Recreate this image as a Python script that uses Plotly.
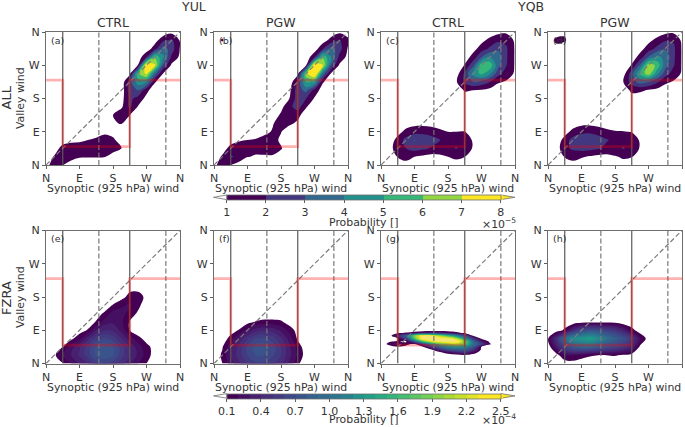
import plotly.graph_objects as go
from plotly.colors import sample_colorscale

W, H = 685, 427
FONT = "DejaVu Sans"
TXT = "#333333"

axis_vals = [0, 90, 180, 270, 360]
axis_text = ["N", "E", "S", "W", "N"]
grid_x = [i * 22.5 for i in range(17)]
grid_y = [i * 22.5 for i in range(17)]
grid_y_g = [0, 22.5, 30, 37.5, 45, 52.5, 60, 67.5, 75, 82.5, 90, 112.5]

solid_x = [45, 225]
dashed_x = [142, 322]
diag = [0, 360]
red_x = [0, 45, 45, 225, 225, 360]
red_y = [230, 230, 50, 50, 230, 230]

levels_top = [1, 8, 1]
levels_bot = [0.1, 2.5, 0.1]
ticks_top = [1, 2, 3, 4, 5, 6, 7, 8]
ticks_bot = [0.1, 0.4, 0.7, 1.0, 1.3, 1.6, 1.9, 2.2, 2.5]
ticks_bot_text = ["0.1", "0.4", "0.7", "1.0", "1.3", "1.6", "1.9", "2.2", "2.5"]

_ = 0
z_a = [
 [.8,1.3,1.05,.3,_,_,_,_,_,_,_,_,_,_,_,_,_],
 [.4,1.1,1.9,1.6,1.15,1.1,1.1,1.05,.6,.1,_,_,_,_,_,_,_],
 [_,.5,1.4,1.4,1.3,1.3,1.4,1.5,1.4,1.05,.2,_,_,_,_,_,_],
 [_,_,.5,.8,.9,1.0,1.2,1.4,1.2,.5,_,_,_,_,_,_,_],
 [_,_,_,_,.2,.3,.5,.8,.6,.2,_,_,_,_,_,_,_],
 [_,_,_,_,_,_,_,.3,.9,1.05,.5,_,_,_,_,_,_],
 [_,_,_,_,_,_,_,.5,1.0,1.8,1.0,.4,_,_,_,_,_],
 [_,_,_,_,_,_,_,.1,.5,.8,2.2,.9,.3,_,_,_,_],
 [_,_,_,_,_,_,_,_,.1,.5,2.3,1.6,.7,.1,_,_,_],
 [_,_,_,_,_,_,_,_,_,.3,2.5,3.0,1.3,.3,_,_,_],
 [_,_,_,_,_,_,_,_,_,.2,2.6,4.6,4.2,1.1,.2,_,_],
 [_,_,_,_,_,_,_,_,_,_,.7,5.8,7.3,3.4,.95,.2,_],
 [_,_,_,_,_,_,_,_,_,_,.2,1.05,8.2,7.2,2.8,.8,.2],
 [_,_,_,_,_,_,_,_,_,_,_,.3,2.0,5.8,4.2,1.8,.8],
 [_,_,_,_,_,_,_,_,_,_,_,_,.3,1.6,3.5,2.5,.95],
 [_,_,_,_,_,_,_,_,_,_,_,_,_,.5,1.8,2.2,.9],
 [_,_,_,_,_,_,_,_,_,_,_,_,_,_,.3,.7,.4],
]
z_b = [
 [.8,1.4,1.0,.5,_,_,_,_,_,_,_,_,_,_,_,_,_],
 [.4,1.15,2.1,1.8,1.05,.9,.9,.9,.5,_,_,_,_,_,_,_,_],
 [_,.5,1.4,1.5,1.4,1.3,1.35,1.4,1.1,.3,_,_,_,_,_,_,_],
 [_,_,.5,.9,1.0,1.1,1.2,1.4,.8,.1,_,_,_,_,_,_,_],
 [_,_,_,_,.2,.5,.85,1.05,1.05,.4,.1,_,_,_,_,_,_],
 [_,_,_,_,_,_,.3,.95,1.3,1.2,.8,.2,_,_,_,_,_],
 [_,_,_,_,_,_,_,.5,1.15,1.8,1.3,.4,_,_,_,_,_],
 [_,_,_,_,_,_,_,_,.7,1.7,2.5,1.1,.3,_,_,_,_],
 [_,_,_,_,_,_,_,_,.3,1.0,2.5,2.0,.9,.1,_,_,_],
 [_,_,_,_,_,_,_,_,_,.7,2.6,3.3,1.6,.5,_,_,_],
 [_,_,_,_,_,_,_,_,_,.3,2.2,5.2,4.8,1.1,.3,_,_],
 [_,_,_,_,_,_,_,_,_,_,.7,6.6,8.6,3.6,.85,.2,_],
 [_,_,_,_,_,_,_,_,_,_,.1,1.0,8.4,7.0,2.9,.8,.2],
 [_,_,_,_,_,_,_,_,_,_,_,.3,1.8,5.8,4.0,1.7,.7],
 [_,_,_,_,_,_,_,_,_,_,_,_,.4,1.9,3.4,2.4,.9],
 [.4,1.15,_,_,_,_,_,_,_,_,_,_,_,.5,1.4,2.1,1.2],
 [.2,.5,_,_,_,_,_,_,_,_,_,_,_,_,.4,.8,.6],
]
z_c = [
 [_,_,.6,.8,.5,.3,.1,.2,.4,.6,.5,.1,_,_,_,_,_],
 [_,.1,1.05,1.2,1.0,.8,.6,.8,1.0,1.2,1.0,.3,_,_,_,_,_],
 [_,.5,1.7,2.0,2.4,2.2,1.9,1.6,1.8,2.05,1.6,.9,.1,_,_,_,_],
 [_,.2,1.5,2.3,3.05,2.7,2.4,2.05,1.7,1.8,1.5,.9,.1,_,_,_,_],
 [_,_,.5,1.4,1.6,1.7,1.6,1.3,1.0,1.0,1.0,.4,_,_,_,_,_],
 [_,_,_,.4,.7,.7,.6,.4,.2,.2,.2,.1,_,_,_,_,_],
 [_,_,_,_,_,_,_,_,_,_,_,_,_,_,_,_,_],
 [_,_,_,_,_,_,_,_,_,_,_,_,_,_,_,_,_],
 [_,_,_,_,_,_,_,_,_,.1,.5,.4,.2,.1,_,_,_],
 [_,_,_,_,_,_,_,_,_,.4,1.1,1.0,.9,.7,.5,.2,_],
 [_,_,_,_,_,_,_,_,_,.9,2.2,3.0,2.7,2.0,1.1,.9,.4],
 [_,_,_,_,_,_,_,_,_,.5,2.2,4.3,5.3,4.2,2.4,1.4,.9],
 [_,_,_,_,_,_,_,_,_,.1,1.1,2.7,5.7,5.7,3.3,2.0,.9],
 [_,_,_,_,_,_,_,_,_,_,.4,1.4,2.9,4.0,3.6,2.1,.9],
 [_,_,_,_,_,_,_,_,_,_,_,.6,1.5,2.2,2.8,2.1,.9],
 [_,_,_,_,_,_,_,_,_,_,_,.1,.7,1.3,1.8,1.8,.8],
 [_,_,_,_,_,_,_,_,_,_,_,_,.1,.4,.7,.8,.4],
]
z_d = [
 [_,_,.6,.8,.5,.3,.1,.2,.4,.6,.5,.1,_,_,_,_,_],
 [_,.1,1.05,1.2,1.1,.9,.7,.7,.9,1.15,1.05,.3,_,_,_,_,_],
 [_,.5,1.7,2.2,2.4,2.3,2.1,1.7,1.8,2.05,1.7,.9,.1,_,_,_,_],
 [_,.2,1.5,2.4,2.9,2.8,2.5,2.1,1.7,1.8,1.5,.9,.1,_,_,_,_],
 [_,_,.5,1.4,1.7,1.8,1.6,1.3,1.1,1.05,.95,.4,_,_,_,_,_],
 [_,_,_,.4,.75,.75,.6,.4,.2,.2,.2,.1,_,_,_,_,_],
 [_,_,_,_,_,_,_,_,_,_,_,_,_,_,_,_,_],
 [_,_,_,_,_,_,_,_,_,_,_,_,_,_,_,_,_],
 [_,_,_,_,_,_,_,_,_,.2,.6,.4,.2,.1,_,_,_],
 [_,_,_,_,_,_,_,_,_,.5,1.2,1.2,.9,.7,.5,.2,_],
 [_,_,_,_,_,_,_,_,_,1.0,2.5,3.4,3.1,2.2,1.2,.9,.4],
 [_,_,_,_,_,_,_,_,_,.5,2.6,5.2,6.6,4.4,2.5,1.5,.9],
 [_,_,_,_,_,_,_,_,_,.1,1.1,3.2,6.6,5.8,3.4,2.1,.9],
 [_,_,_,_,_,_,_,_,_,_,.4,1.4,3.1,4.2,3.8,2.2,.9],
 [_,.6,.3,_,_,_,_,_,_,_,_,.6,1.5,2.3,2.9,2.2,.9],
 [.4,1.25,1.15,.2,_,_,_,_,_,_,_,.1,.7,1.3,1.9,1.9,.8],
 [_,.5,.8,.1,_,_,_,_,_,_,_,_,.1,.4,.7,.8,.4],
]
z_e = [
 [_,_,.09,.2,.3,.4,.55,.6,.55,.45,.3,.2,.1,.03,_,_,_],
 [_,.08,.2,.3,.42,.55,.72,.78,.72,.55,.4,.28,.15,.05,_,_,_],
 [_,_,.1,.25,.38,.55,.72,.8,.72,.55,.38,.25,.14,.05,_,_,_],
 [_,_,.03,.07,.17,.36,.55,.62,.55,.4,.25,.14,.05,_,_,_,_],
 [_,_,_,_,.05,.11,.3,.4,.38,.27,.1,.02,_,_,_,_,_],
 [_,_,_,_,_,.04,.11,.25,.28,.22,.09,.03,_,_,_,_,_],
 [_,_,_,_,_,_,.05,.12,.25,.24,.16,.08,.02,_,_,_,_],
 [_,_,_,_,_,_,_,.03,.11,.18,.22,.13,.03,_,_,_,_],
 [_,_,_,_,_,_,_,_,.02,.06,.14,.15,.07,_,_,_,_],
 [_,_,_,_,_,_,_,_,_,_,.07,.07,.03,_,_,_,_],
 [_]*17,[_]*17,[_]*17,[_]*17,[_]*17,[_]*17,[_]*17,
]
z_f = [
 [_,.1,.25,.38,.5,.58,.58,.52,.42,.28,.12,.03,_,_,_,_,_],
 [.02,.12,.3,.45,.6,.7,.7,.62,.5,.33,.18,.05,_,_,_,_,_],
 [_,.09,.27,.43,.62,.76,.76,.66,.5,.32,.16,.03,_,_,_,_,_],
 [_,.02,.15,.33,.48,.6,.62,.55,.42,.26,.08,_,_,_,_,_,_],
 [_,_,.03,.11,.25,.35,.39,.36,.28,.17,.05,_,_,_,_,_,_],
 [_,_,_,_,.06,.11,.14,.14,.12,.04,_,_,_,_,_,_,_],
 [_]*17,[_]*17,[_]*17,[_]*17,[_]*17,[_]*17,[_]*17,[_]*17,[_]*17,[_]*17,[_]*17,
]
z_g = [
 [_]*17,
 [_,_,_,_,_,_,_,_,_,.03,.06,.02,_,_,_,_,_],
 [_,_,_,_,_,_,_,.06,.2,.35,.45,.2,_,_,_,_,_],
 [_,_,_,_,_,_,.08,.4,.7,.8,.8,.5,.06,_,_,_,_],
 [_,.03,.08,.05,_,.08,.5,.9,1.2,1.3,1.2,.8,.08,_,_,_,_],
 [_,.15,.3,.15,.06,.5,1.2,1.8,2.0,2.2,1.9,1.0,.6,.12,_,_,_],
 [_,.08,.11,.07,.8,1.8,2.4,2.6,2.7,2.7,2.0,.9,.3,.05,_,_,_],
 [_,_,.08,.6,1.8,2.7,2.7,2.7,2.6,2.2,1.3,.5,.08,_,_,_,_],
 [_,_,.4,.9,2.0,2.6,2.5,2.1,1.7,1.2,.7,.1,_,_,_,_,_],
 [_,_,.07,.12,.2,.3,.35,.35,.25,.15,.07,_,_,_,_,_,_],
 [_]*17,
 [_]*17,
]
z_h = [
 [_,_,.03,.05,.03,_,_,_,_,_,_,_,_,_,_,_,_],
 [_,.05,.2,.2,.15,.12,.1,.1,.11,.08,.04,_,_,_,_,_,_],
 [.02,.3,.6,.8,.9,.9,.8,.7,.62,.52,.38,.07,_,_,_,_,_],
 [.09,.45,.95,1.25,1.35,1.45,1.25,1.0,.85,.72,.52,.22,.04,_,_,_,_],
 [_,.02,.13,.42,.62,.72,.68,.58,.5,.35,.15,.02,_,_,_,_,_],
 [_,_,_,_,.04,.06,.06,.06,.05,_,_,_,_,_,_,_,_],
 [_]*17,[_]*17,[_]*17,[_]*17,[_]*17,[_]*17,[_]*17,[_]*17,[_]*17,[_]*17,[_]*17,
]

panel_letters = ["(a)", "(b)", "(c)", "(d)", "(e)", "(f)", "(g)", "(h)"]
column_titles = ["CTRL", "PGW", "CTRL", "PGW"]
xleft = [46, 214, 381, 548]
ytop = [32, 230.5]
pw, ph = 134, 133
BAR_LEFT, BAR_RIGHT, BAR_THICK = 226.7, 501, 4.6
bar_tops = [195, 393.6]


def px(x):
    return x / W


def py(y):
    return 1 - y / H


def stepped_scale(colors, low, high, step, over):
    """Piecewise-constant colour scale with clear under-range and an over-range band."""
    n = len(colors)
    total = n + 2
    clear = "rgba(255,255,255,0)"
    stops = [[0, clear], [1 / total, clear]]
    for i, c in enumerate(colors):
        stops += [[(i + 1) / total, c], [(i + 2) / total, c]]
    stops += [[(n + 1) / total, over], [1, over]]
    return stops, low - step, high + step


def bar_scale(colors):
    n = len(colors)
    stops = []
    for i, c in enumerate(colors):
        stops += [[i / n, c], [(i + 1) / n, c]]
    return stops


n_top = 7
cols_top = sample_colorscale("Viridis", [i / (n_top - 1) for i in range(n_top)])
n_bot = 24
cols_bot = sample_colorscale("Viridis", [i / (n_bot - 1) for i in range(n_bot)])
scale_top, zmin_top, zmax_top = stepped_scale(cols_top, 1, 8, 1, "#fde725")
scale_bot, zmin_bot, zmax_bot = stepped_scale(cols_bot, 0.1, 2.5, 0.1, "#f3e66e")

fig = go.Figure()
layout = {}
annotations = []
shapes = []
grids = [z_a, z_b, z_c, z_d, z_e, z_f, z_g, z_h]
LINE = "#5f5f5f"

for k, z in enumerate(grids):
    row, col = k // 4, k % 4
    n = k + 1
    xa, ya = ("x", "y") if n == 1 else (f"x{n}", f"y{n}")
    x0, y0 = xleft[col], ytop[row]
    common = dict(
        range=[0, 360], tickmode="array", tickvals=axis_vals, ticktext=axis_text,
        showgrid=False, zeroline=False, showline=True, mirror=True,
        linecolor="#6e6e6e", linewidth=1.3, ticks="outside", ticklen=3, tickwidth=1,
        tickcolor=LINE, tickfont=dict(family=FONT, size=11, color=TXT),
    )
    layout["xaxis" if n == 1 else f"xaxis{n}"] = dict(
        domain=[px(x0), px(x0 + pw)], anchor=ya, **common)
    layout["yaxis" if n == 1 else f"yaxis{n}"] = dict(
        domain=[py(y0 + ph), py(y0)], anchor=xa, **common)

    top = row == 0
    start, end, size = levels_top if top else levels_bot
    scale = scale_top if top else scale_bot
    zlo, zhi = (zmin_top, zmax_top) if top else (zmin_bot, zmax_bot)
    fig.add_trace(go.Contour(
        x=grid_x, y=grid_y_g if k == 6 else grid_y, z=z, xaxis=xa, yaxis=ya,
        autocontour=False, contours=dict(start=start, end=end, size=size, coloring="fill"),
        line=dict(width=0, smoothing=1.0), colorscale=scale, zmin=zlo, zmax=zhi,
        showscale=False, hoverinfo="skip",
    ))
    for v in solid_x:
        fig.add_trace(go.Scatter(x=[v, v], y=diag, xaxis=xa, yaxis=ya, mode="lines",
                                 line=dict(color="#5a5a5a", width=1.2), showlegend=False, hoverinfo="skip"))
    for v in dashed_x:
        fig.add_trace(go.Scatter(x=[v, v], y=diag, xaxis=xa, yaxis=ya, mode="lines",
                                 line=dict(color="#777777", width=1.2, dash="5px,2.5px"), showlegend=False, hoverinfo="skip"))
    fig.add_trace(go.Scatter(x=diag, y=diag, xaxis=xa, yaxis=ya, mode="lines",
                             line=dict(color="#7d7d7d", width=1.2, dash="5px,2.5px"), showlegend=False, hoverinfo="skip"))
    fig.add_trace(go.Scatter(x=red_x, y=red_y, xaxis=xa, yaxis=ya, mode="lines",
                             line=dict(color="rgba(255,0,0,0.3)", width=2.8), showlegend=False, hoverinfo="skip"))

    annotations.append(dict(text=panel_letters[k], x=px(x0 + 3), y=py(y0 + 8.5), xref="paper", yref="paper",
                            xanchor="left", yanchor="middle", showarrow=False,
                            font=dict(family=FONT, size=9.5, color=TXT)))
    annotations.append(dict(text="Synoptic (925 hPa) wind", x=px(x0 + pw / 2), y=py(y0 + ph + 23.5), xref="paper", yref="paper",
                            xanchor="center", yanchor="middle", showarrow=False,
                            font=dict(family=FONT, size=10.9, color=TXT)))

# Colour bars: carried by traces placed outside the fixed axis range.
for top_row, ticks, ticktext, lev, cols, ybar in (
    (True, ticks_top, [str(t) for t in ticks_top], levels_top, cols_top, bar_tops[0]),
    (False, ticks_bot, ticks_bot_text, levels_bot, cols_bot, bar_tops[1]),
):
    fig.add_trace(go.Contour(
        x=[1000, 1001], y=[1000, 1001], z=[[lev[0], lev[1]], [lev[0], lev[1]]], xaxis="x", yaxis="y",
        autocontour=False, contours=dict(start=lev[0], end=lev[1], size=lev[2], coloring="fill"),
        line=dict(width=0), colorscale=bar_scale(cols), zmin=lev[0], zmax=lev[1],
        hoverinfo="skip",
        colorbar=dict(
            orientation="h", lenmode="pixels", len=BAR_RIGHT - BAR_LEFT, thicknessmode="pixels",
            thickness=BAR_THICK, x=px(BAR_LEFT), xanchor="left", y=py(ybar), yanchor="top",
            xpad=0, ypad=0, outlinewidth=0.8, outlinecolor="#6e6e6e",
            ticks="outside", ticklen=3, tickwidth=1, tickcolor=LINE,
            tickmode="array", tickvals=ticks, ticktext=ticktext,
            tickfont=dict(family=FONT, size=11, color=TXT),
        ),
    ))


def label(text, x, y, size, angle=0, anchor="center"):
    annotations.append(dict(text=text, x=px(x), y=py(y), xref="paper", yref="paper", textangle=angle,
                            xanchor=anchor, yanchor="middle", showarrow=False,
                            font=dict(family=FONT, size=size, color=TXT)))


for c, t in enumerate(column_titles):
    label(t, xleft[c] + pw / 2, 22, 12.5)
label("YUL", 193, 6, 12.5)
label("YQB", 530, 6, 12.5)
label("ALL", 5.5, 98, 13, -90)
label("FZRA", 6, 298, 13, -90)
label("Valley wind", 20, 98, 10.9, -90)
label("Valley wind", 20, 297, 10.9, -90)
label("Probability []", 363.5, 222, 10.9)
label("Probability []", 363.5, 419.5, 10.9)
label("×10<sup>−5</sup>", 518, 223, 10.9, anchor="right")
label("×10<sup>−4</sup>", 518, 419.5, 10.9, anchor="right")

for ybar in bar_tops:
    h = BAR_THICK
    shapes.append(dict(type="path", xref="paper", yref="paper", fillcolor="white",
                       line=dict(color="#6e6e6e", width=0.8),
                       path=f"M {px(BAR_LEFT)} {py(ybar)} L {px(213.5)} {py(ybar + h / 2)} L {px(BAR_LEFT)} {py(ybar + h)} Z"))
    shapes.append(dict(type="path", xref="paper", yref="paper", fillcolor="#fde725",
                       line=dict(color="#6e6e6e", width=0.8),
                       path=f"M {px(BAR_RIGHT)} {py(ybar)} L {px(515)} {py(ybar + h / 2)} L {px(BAR_RIGHT)} {py(ybar + h)} Z"))

fig.update_layout(
    width=W, height=H, margin=dict(l=0, r=0, t=0, b=0, autoexpand=False), paper_bgcolor="white", plot_bgcolor="white",
    showlegend=False, annotations=annotations, shapes=shapes, **layout,
)
fig.write_html("out.html", config={"displayModeBar": False},
               post_script="document.body.style.margin='0';")
